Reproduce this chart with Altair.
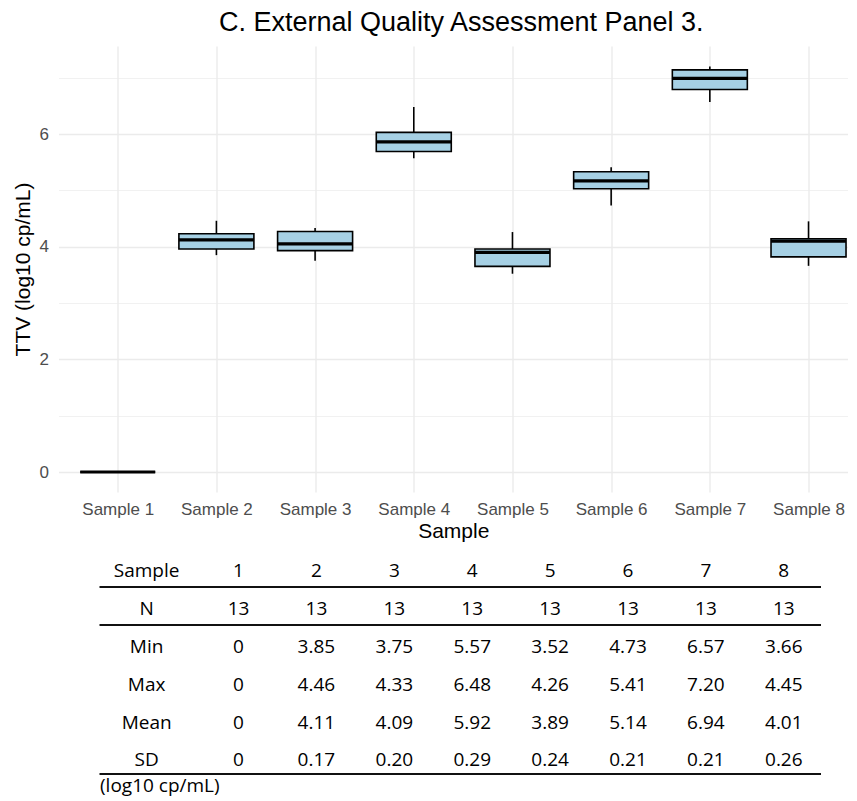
import altair as alt
import pandas as pd

# ---- data ----
sample_idx = [1, 2, 3, 4, 5, 6, 7, 8]
whisk_lo = [0, 3.85, 3.75, 5.57, 3.52, 4.73, 6.57, 3.66]
q1 = [0, 3.96, 3.93, 5.69, 3.65, 5.03, 6.79, 3.82]
median = [0, 4.12, 4.05, 5.86, 3.90, 5.17, 6.99, 4.10]
q3 = [0, 4.23, 4.27, 6.03, 3.96, 5.33, 7.14, 4.14]
whisk_hi = [0, 4.46, 4.33, 6.48, 4.26, 5.41, 7.20, 4.45]

tab_n = [13, 13, 13, 13, 13, 13, 13, 13]
tab_min = [0, 3.85, 3.75, 5.57, 3.52, 4.73, 6.57, 3.66]
tab_max = [0, 4.46, 4.33, 6.48, 4.26, 5.41, 7.20, 4.45]
tab_mean = [0, 4.11, 4.09, 5.92, 3.89, 5.14, 6.94, 4.01]
tab_sd = [0, 0.17, 0.20, 0.29, 0.24, 0.21, 0.21, 0.26]
row_labels = ["Sample", "N", "Min", "Max", "Mean", "SD"]
rule_rows = [0.265, 1.27, 5.2]
footnote = "(log10 cp/mL)"

FONT = "Liberation Sans"
TFONT = "Open Sans"

box_df = pd.DataFrame({
    "idx": sample_idx, "lo": whisk_lo, "q1": q1, "med": median,
    "q3": q3, "hi": whisk_hi,
})

xs = alt.Scale(domain=[0.4, 8.4], nice=False, zero=False)
ys = alt.Scale(domain=[-0.355, 7.563], nice=False, zero=False)

x_axis = alt.Axis(
    values=sample_idx, labelExpr="'Sample ' + datum.value", title="Sample",
    grid=True, gridColor="#EBEBEB", gridWidth=1.4, domain=False, ticks=False,
    labelFontSize=17, labelColor="#4D4D4D", labelFont=FONT, labelPadding=9,
    titleFontSize=21, titleFont=FONT, titleFontWeight="normal", titleColor="#000000",
    titlePadding=3,
)
y_axis = alt.Axis(
    values=[0, 1, 2, 3, 4, 5, 6, 7],
    labelExpr="datum.value % 2 == 0 ? datum.value : ''",
    title="TTV (log10 cp/mL)",
    grid=True, gridColor="#EBEBEB",
    gridWidth={"condition": {"test": "datum.value % 2 == 0", "value": 1.4}, "value": 0.7},
    domain=False, ticks=False,
    labelFontSize=17, labelColor="#4D4D4D", labelFont=FONT, labelPadding=10,
    titleFontSize=21, titleFont=FONT, titleFontWeight="normal", titleColor="#000000",
    titlePadding=6,
)

base = alt.Chart(box_df).transform_calculate(
    xl="datum.idx - 0.38", xr="datum.idx + 0.38"
)

whisk = base.mark_rule(color="black", strokeWidth=1.6).encode(
    x=alt.X("idx:Q", scale=xs, axis=x_axis),
    y=alt.Y("lo:Q", scale=ys, axis=y_axis),
    y2="hi:Q",
)
box = base.mark_rect(fill="#A6D0E4", stroke="black", strokeWidth=1.6).encode(
    x=alt.X("xl:Q", scale=xs), x2="xr:Q",
    y=alt.Y("q1:Q", scale=ys), y2="q3:Q",
)
med = base.mark_rule(color="black", strokeWidth=3.2).encode(
    x=alt.X("xl:Q", scale=xs), x2="xr:Q",
    y=alt.Y("med:Q", scale=ys),
)

top = alt.layer(whisk, box, med).properties(
    width=789.5, height=446,
    title=alt.TitleParams(
        "C. External Quality Assessment Panel 3.", fontSize=27, font=FONT,
        fontWeight="normal", color="#000000", anchor="middle", frame="group",
        offset=9, dx=8,
    ),
)

# ---- table ----
def fmt(v):
    return "0" if v == 0 else f"{v:.2f}"

cells = []
for c in range(8):
    cells.append({"row": 0, "col": c + 1, "txt": str(sample_idx[c])})
    cells.append({"row": 1, "col": c + 1, "txt": str(tab_n[c])})
    cells.append({"row": 2, "col": c + 1, "txt": fmt(tab_min[c])})
    cells.append({"row": 3, "col": c + 1, "txt": fmt(tab_max[c])})
    cells.append({"row": 4, "col": c + 1, "txt": fmt(tab_mean[c])})
    cells.append({"row": 5, "col": c + 1, "txt": fmt(tab_sd[c])})
cell_df = pd.DataFrame(cells)
lab_df = pd.DataFrame({"row": list(range(len(row_labels))), "col": [0] * len(row_labels), "txt": row_labels})
rule_df = pd.DataFrame({"r": rule_rows})
foot_df = pd.DataFrame({"r": [5.68], "txt": [footnote]})

txs = alt.Scale(domain=[-1.311, 8.824], nice=False, zero=False)
tys = alt.Scale(domain=[-0.95, 5.78], nice=False, zero=False, reverse=True)

cell_txt = alt.Chart(cell_df).mark_text(
    font=TFONT, fontSize=19, baseline="alphabetic", align="center", color="#000000"
).encode(
    x=alt.X("col:Q", scale=txs, axis=None),
    y=alt.Y("row:Q", scale=tys, axis=None),
    text="txt:N",
)
lab_txt = alt.Chart(lab_df).mark_text(
    font=TFONT, fontSize=19, baseline="alphabetic", align="center", color="#000000", dx=-14
).encode(
    x=alt.X("col:Q", scale=txs, axis=None),
    y=alt.Y("row:Q", scale=tys, axis=None),
    text="txt:N",
)
rules = alt.Chart(rule_df).mark_rule(color="#111111", strokeWidth=2).encode(
    x=alt.value(41), x2=alt.value(762.5),
    y=alt.Y("r:Q", scale=tys, axis=None),
)
foot = alt.Chart(foot_df).mark_text(
    font=TFONT, fontSize=19, baseline="alphabetic", align="left", color="#000000"
).encode(
    x=alt.value(41.5),
    y=alt.Y("r:Q", scale=tys, axis=None),
    text="txt:N",
)

table = alt.layer(rules, cell_txt, lab_txt, foot).properties(width=789.5, height=255)

chart = alt.vconcat(top, table, spacing=0).properties(
    padding={"top": 1, "left": 3.5, "right": 0, "bottom": 0}
).configure_view(strokeWidth=0)

chart.save("out.html", embed_options={"renderer": "svg", "actions": False})
